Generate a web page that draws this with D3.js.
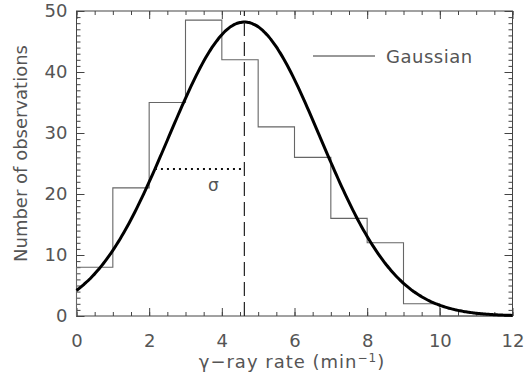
<!DOCTYPE html>
<html>
<head>
<meta charset="utf-8">
<script src="https://cdn.jsdelivr.net/npm/d3@7"></script>
<style>
  html, body { margin: 0; padding: 0; background: #fff; }
  svg text { font-family: "DejaVu Sans", "Liberation Sans", sans-serif; fill: #555; }
</style>
</head>
<body>
<svg id="chart" width="524" height="380"></svg>
<script>
// Histogram of observed rates: bin left edges (min^-1) and counts per bin
const binStarts = [0, 1, 2, 3, 4, 5, 6, 7, 8, 9, 10, 11];
const binCounts = [8, 21, 35, 48.5, 42, 31, 26, 16, 12, 2, 0, 0];
const binWidth = 1;

// Fitted Gaussian parameters
const gaussMean = 4.62;
const gaussSigma = 2.09;
const gaussPeak = 48.2;

// Axis ticks
const xTicks = [0, 2, 4, 6, 8, 10, 12];
const yTicks = [0, 10, 20, 30, 40, 50];

const svg = d3.select("#chart");
const margin = { left: 76.5, right: 11.5, top: 11, bottom: 64 };
const W = 524, H = 380;

const x = d3.scaleLinear().domain([0, 12]).range([margin.left, W - margin.right]);
const y = d3.scaleLinear().domain([0, 50]).range([H - margin.bottom, margin.top]);

const axisColor = "#444";
const noLabel = () => "";

// Minor + major ticks on all four sides, pointing into the plot
function drawAxis(makeAxis, tr, minorVals, majorVals, labels) {
  const gMinor = svg.append("g").attr("transform", tr)
    .call(makeAxis().tickValues(minorVals).tickSize(4).tickFormat(noLabel));
  gMinor.select(".domain").remove();
  gMinor.selectAll("text").remove();
  gMinor.selectAll("line").attr("stroke", axisColor);
  const gMajor = svg.append("g").attr("transform", tr)
    .call(makeAxis().tickValues(majorVals).tickSize(8).tickFormat(labels ? d3.format("d") : noLabel));
  gMajor.select(".domain").remove();
  if (!labels) gMajor.selectAll("text").remove();
  gMajor.selectAll("line").attr("stroke", axisColor);
  gMajor.selectAll("text").style("font-size", "18px").attr("fill", "#555");
  return gMajor;
}
const xMinor = d3.range(0, 12.001, 0.5);
const yMinor = d3.range(0, 50.001, 1);

const gb = drawAxis(() => d3.axisTop(x), `translate(0,${y(0)})`, xMinor, xTicks, true);
gb.selectAll("text").attr("y", 31).attr("dy", "0");
drawAxis(() => d3.axisBottom(x), `translate(0,${y(50)})`, xMinor, xTicks, false);
const gl = drawAxis(() => d3.axisRight(y), `translate(${x(0)},0)`, yMinor, yTicks, true);
gl.selectAll("text").attr("x", -9).attr("text-anchor", "end");
drawAxis(() => d3.axisLeft(y), `translate(${x(12)},0)`, yMinor, yTicks, false);

// Frame
svg.append("rect")
  .attr("x", x(0)).attr("y", y(50))
  .attr("width", x(12) - x(0)).attr("height", y(0) - y(50))
  .attr("fill", "none").attr("stroke", axisColor).attr("stroke-width", 1);

// Histogram as a step outline
const steps = [];
binStarts.forEach((s, i) => {
  steps.push([s, binCounts[i]]);
  steps.push([s + binWidth, binCounts[i]]);
});
const stepLine = d3.line().x(d => x(d[0])).y(d => y(d[1]));
svg.append("path")
  .attr("d", stepLine([[0, 0]].concat(steps).concat([[12, 0]])))
  .attr("fill", "none").attr("stroke", "#666").attr("stroke-width", 1.1);

// Gaussian curve
const gauss = v => gaussPeak * Math.exp(-((v - gaussMean) ** 2) / (2 * gaussSigma ** 2));
const curvePts = d3.range(0, 12.0001, 0.05).map(v => [v, gauss(v)]);
svg.append("path")
  .attr("d", d3.line().x(d => x(d[0])).y(d => y(d[1])).curve(d3.curveBasis)(curvePts))
  .attr("fill", "none").attr("stroke", "#000").attr("stroke-width", 3);

// Dashed line at the mean
svg.append("line")
  .attr("x1", x(gaussMean)).attr("x2", x(gaussMean))
  .attr("y1", y(0)).attr("y2", y(50))
  .attr("stroke", "#222").attr("stroke-width", 1.2).attr("stroke-dasharray", "14,6");

// Dotted half-width at half maximum
const hwhm = gaussSigma * Math.sqrt(2 * Math.LN2);
svg.append("line")
  .attr("x1", x(gaussMean - hwhm)).attr("x2", x(gaussMean))
  .attr("y1", y(gaussPeak / 2)).attr("y2", y(gaussPeak / 2))
  .attr("stroke", "#111").attr("stroke-width", 2).attr("stroke-dasharray", "2,4");
svg.append("text")
  .attr("x", x(gaussMean) - 31).attr("y", y(gaussPeak / 2) + 22)
  .attr("text-anchor", "middle").style("font-size", "17px")
  .text("σ");

// Legend
svg.append("line")
  .attr("x1", 313).attr("x2", 375).attr("y1", 56).attr("y2", 56)
  .attr("stroke", "#333").attr("stroke-width", 1);
svg.append("text")
  .attr("x", 386).attr("y", 63).style("font-size", "18px").style("letter-spacing", "0.5px")
  .text("Gaussian");

// Axis titles
svg.append("text")
  .attr("x", 292).attr("y", 368)
  .attr("text-anchor", "middle").style("font-size", "18px").style("letter-spacing", "1px")
  .html('γ−ray rate (min<tspan dy="-6" style="font-size:12px">−1</tspan><tspan dy="6">)</tspan>');
svg.append("text")
  .attr("transform", `translate(27,${(y(0) + y(50)) / 2 - 10}) rotate(-90)`)
  .attr("text-anchor", "middle").style("font-size", "18px")
  .text("Number of observations");
</script>
</body>
</html>
